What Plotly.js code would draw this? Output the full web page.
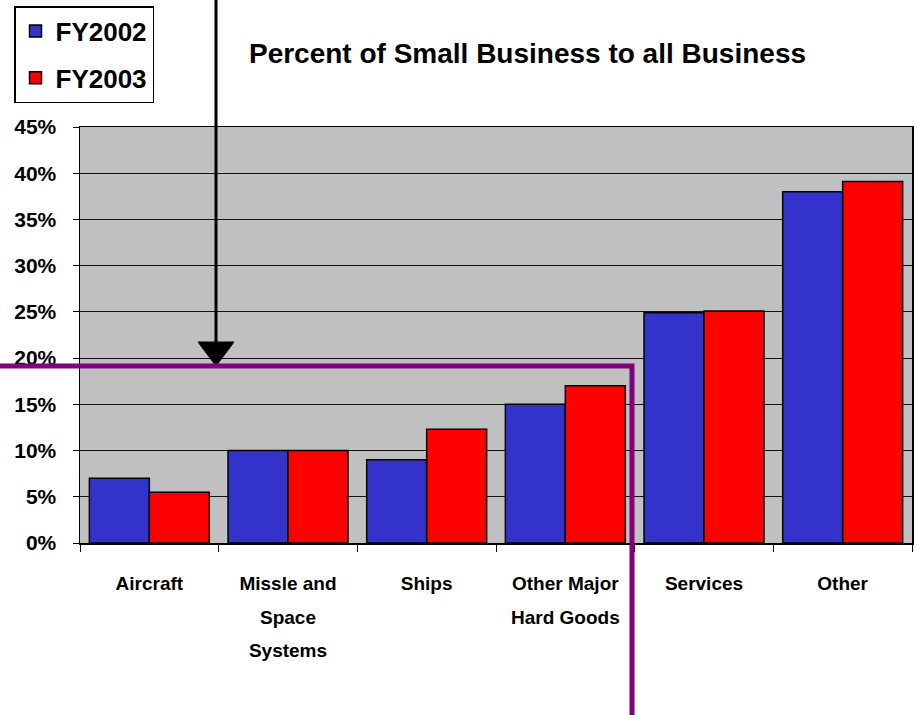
<!DOCTYPE html>
<html>
<head>
<meta charset="utf-8">
<script src="https://cdn.plot.ly/plotly-3.0.1.min.js"></script>
<style>html,body{margin:0;padding:0;background:#fff;}#chart{width:915px;height:715px;}</style>
</head>
<body>
<div id="chart"></div>
<script>
// ---- data ----
var categories = ["Aircraft", "Missle and<br>Space<br>Systems", "Ships", "Other Major<br>Hard Goods", "Services", "Other"];
var fy2002 = [7.0, 10.0, 9.0, 15.0, 24.9, 38.0];
var fy2003 = [5.5, 10.0, 12.3, 17.0, 25.1, 39.1];
var seriesNames = ["FY2002", "FY2003"];
var chartTitle = "Percent of Small Business to all Business";
var yTickVals = [0, 5, 10, 15, 20, 25, 30, 35, 40, 45];

// ---- layout helpers (pixel -> paper) ----
var W = 915, H = 715, L = 80, R = 3, T = 127, B = 172;
var PW = W - L - R, PH = H - T - B;
function px(x) { return (x - L) / PW; }
function py(y) { return (H - B - y) / PH; }

var FONT = "Liberation Sans, Arial, Helvetica, sans-serif";

// category labels: big line spacing with smaller glyphs
var catLabels = categories.map(function (c) {
  return c.split("<br>").map(function (s) {
    return "<span style='font-size:19px'>" + s + "</span>";
  }).join("<br>");
});

var traces = [
  {
    type: "bar", name: seriesNames[0], x: catLabels, y: fy2002,
    marker: { color: "#3333CC", line: { color: "#000", width: 1.5 } },
    legendgroup: "a", hoverinfo: "skip"
  },
  {
    type: "bar", name: seriesNames[1], x: catLabels, y: fy2003,
    marker: { color: "#FF0000", line: { color: "#000", width: 1.5 } },
    legendgroup: "b", hoverinfo: "skip"
  }
];

var layout = {
  width: W, height: H,
  margin: { l: L, r: R, t: T, b: B, pad: 0 },
  paper_bgcolor: "#fff",
  plot_bgcolor: "#C0C0C0",
  font: { family: FONT, color: "#000", weight: "bold" },
  barmode: "group",
  bargap: 0.135,
  bargroupgap: 0,
  title: {
    text: chartTitle,
    font: { family: FONT, size: 28, weight: "bold", color: "#000" },
    x: 527.5 / W, xref: "container", xanchor: "center",
    y: 1 - 53 / H, yref: "container", yanchor: "middle"
  },
  xaxis: {
    type: "category",
    tickson: "boundaries",
    ticks: "outside", ticklen: 7, tickwidth: 1, tickcolor: "#000",
    showline: true, linecolor: "#000", linewidth: 1.5, mirror: true,
    showgrid: false,
    tickfont: { family: FONT, size: 26, weight: "bold", color: "#000" },
    ticklabelstandoff: 14,
    fixedrange: true
  },
  yaxis: {
    range: [0, 45],
    tickmode: "array", tickvals: yTickVals,
    ticktext: yTickVals.map(function (v) { return v + "%"; }),
    ticks: "outside", ticklen: 6, tickwidth: 1, tickcolor: "#000",
    showline: true, linecolor: "#000", linewidth: 1.5, mirror: true,
    showgrid: true, gridcolor: "#111", gridwidth: 1.2,
    zeroline: false,
    tickfont: { family: FONT, size: 21, weight: "bold", color: "#000" },
    ticklabelstandoff: 12,
    fixedrange: true
  },
  showlegend: true,
  legend: {
    x: px(14), y: py(6), xanchor: "left", yanchor: "top",
    xref: "paper", yref: "paper",
    bgcolor: "#fff", bordercolor: "#000", borderwidth: 1.5,
    font: { family: FONT, size: 26, weight: "bold", color: "#000" },
    tracegroupgap: 10,
    itemwidth: 30
  },
  shapes: [
    // black arrow shaft
    { type: "line", xref: "paper", yref: "paper",
      x0: px(216), x1: px(216), y0: py(0), y1: py(345),
      line: { color: "#000", width: 3 }, layer: "above" },
    // arrow head
    { type: "path", xref: "paper", yref: "paper",
      path: "M" + px(198) + "," + py(342) + " L" + px(234) + "," + py(342) + " L" + px(216) + "," + py(366) + " Z",
      fillcolor: "#000", line: { color: "#000", width: 1 }, layer: "above" },
    // purple bracket
    { type: "path", xref: "paper", yref: "paper",
      path: "M" + px(-2) + "," + py(366) + " L" + px(632) + "," + py(366) + " L" + px(632) + "," + py(720),
      line: { color: "#800080", width: 5 }, layer: "above" }
  ]
};

Plotly.newPlot("chart", traces, layout, { displayModeBar: false, staticPlot: true });
</script>
</body>
</html>
